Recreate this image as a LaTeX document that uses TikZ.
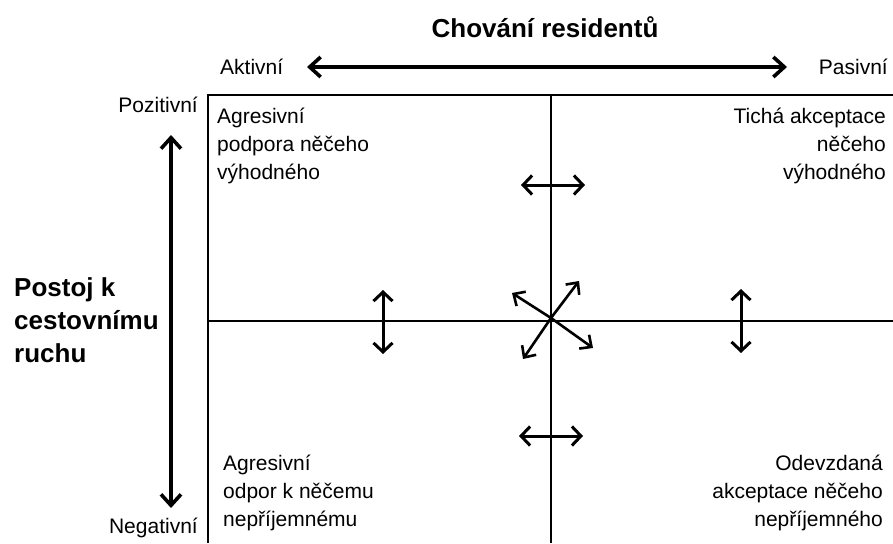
\documentclass[tikz,border=0pt]{standalone}
\usepackage{fontspec}
\setmainfont{Liberation Sans}
\usetikzlibrary{arrows.meta,positioning}

\begin{document}
\begin{tikzpicture}[
  x=1pt, y=-1pt,
  font=\fontsize{21}{28}\selectfont,
  lbl/.style={inner sep=0pt},
  head/.style={inner sep=0pt, font=\bfseries\fontsize{26}{33}\selectfont},
  quad/.style={inner sep=0pt},
  frame/.style={line width=1.4pt},
  axis/.style={line width=3.6pt, {Straight Barb[length=11pt,width=20pt]}-{Straight Barb[length=11pt,width=20pt]}},
  mv/.style={line width=3pt, {Straight Barb[length=9pt,width=19pt]}-{Straight Barb[length=9pt,width=19pt]}},
  mvone/.style={line width=2.6pt, -{Straight Barb[length=9pt,width=17pt]}}
]
\useasboundingbox (0,0) rectangle (893,543);
\node[head] (title) at (545,27) {Chování residentů};
\node[lbl, anchor=west] (akt) at (220,67) {Aktivní};
\node[lbl, anchor=east] (pas) at (888,67) {Pasivní};
\node[lbl, anchor=east] (poz) at (198,105) {Pozitivní};
\node[lbl, anchor=east] (neg) at (198,528) {Negativní};
\node[head, anchor=west, align=left] (postoj) at (14,320) {Postoj k\\cestovnímu\\ruchu};
\coordinate (tl) at (208,95);
\coordinate (tr) at (893,95);
\coordinate (bl) at (208,543);
\coordinate (mt) at (551,95);
\coordinate (mb) at (551,543);
\coordinate (ml) at (208,321);
\coordinate (mr) at (893,321);
\draw[frame] (tr) -- (tl) -- (bl);
\draw[frame] (mt) -- (mb);
\draw[frame] (ml) -- (mr);
\node[quad, anchor=north west, align=left] (q1) at (217,108) {Agresivní\\podpora něčeho\\výhodného};
\node[quad, anchor=north east, align=right] (q2) at (886,108) {Tichá akceptace\\něčeho\\výhodného};
\node[quad, anchor=north west, align=left] (q3) at (223,455) {Agresivní\\odpor k něčemu\\nepříjemnému};
\node[quad, anchor=north east, align=right] (q4) at (883,455) {Odevzdaná\\akceptace něčeho\\nepříjemného};
\coordinate (ha) at (307,67);
\coordinate (hb) at (787,67);
\coordinate (va) at (171,135);
\coordinate (vb) at (171,508);
\draw[axis] (ha) -- (hb);
\draw[axis] (va) -- (vb);
\coordinate (ua) at (521,185);
\coordinate (ub) at (585,185);
\coordinate (da) at (519,436);
\coordinate (db) at (583,436);
\coordinate (la) at (383,290);
\coordinate (lb) at (383,354);
\coordinate (ra) at (741,289);
\coordinate (rb) at (741,353);
\draw[mv] (ua) -- (ub);
\draw[mv] (da) -- (db);
\draw[mv] (la) -- (lb);
\draw[mv] (ra) -- (rb);
\coordinate (c) at (551,318);
\coordinate (cne) at (579,281);
\coordinate (cnw) at (512,293);
\coordinate (csw) at (523,359);
\coordinate (cse) at (593,348);
\foreach \t in {cne,cnw,csw,cse}
  \draw[mvone] (c) -- (\t);
\end{tikzpicture}
\end{document}
